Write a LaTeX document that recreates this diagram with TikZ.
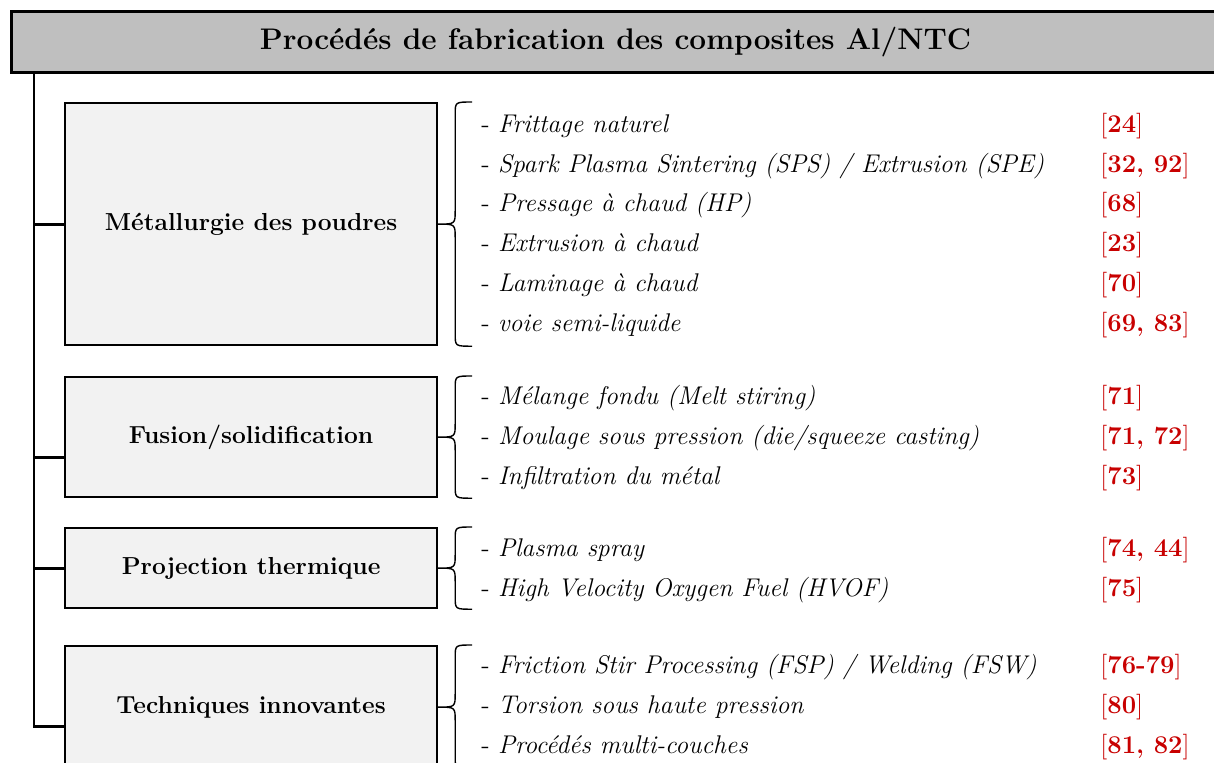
\documentclass[tikz,border=0pt]{standalone}
\definecolor{hdrgray}{HTML}{BFBFBF}
\definecolor{boxgray}{HTML}{F2F2F2}
\definecolor{refred}{HTML}{C80000}
\newcommand\drawbrace[1]{%
  \draw[br] ([xshift=17pt]#1.north east)
    .. controls ([xshift=8.5pt]#1.north east) .. ([xshift=8.5pt,yshift=-6pt]#1.north east)
    -- ([xshift=8.5pt,yshift=7pt]#1.east)
    .. controls ([xshift=8.5pt]#1.east) .. (#1.east)
    .. controls ([xshift=8.5pt]#1.east) .. ([xshift=8.5pt,yshift=-7pt]#1.east)
    -- ([xshift=8.5pt,yshift=6pt]#1.south east)
    .. controls ([xshift=8.5pt]#1.south east) .. ([xshift=17pt]#1.south east);}
\begin{document}
\begin{tikzpicture}[x=0.5pt,y=-0.5pt,
  hdr/.style={draw, line width=1.5pt, fill=hdrgray, minimum width=604pt, minimum height=30.5pt, inner sep=0pt, anchor=north west, font=\fontsize{14.9}{17}\selectfont\bfseries},
  cat/.style={draw, line width=1.1pt, fill=boxgray, minimum width=186pt, inner sep=0pt, anchor=north west, font=\fontsize{12.3}{14}\selectfont\bfseries},
  item/.style={anchor=base west, inner sep=0pt, font=\fontsize{12.8}{15}\selectfont},
  ref/.style={anchor=base west, inner sep=0pt, text=refred, font=\fontsize{12.8}{15}\selectfont},
  link/.style={line width=1.4pt},
  br/.style={line width=0.7pt}]
\useasboundingbox (0,0) rectangle (1214,762);
\clip (0,0) rectangle (1214,762);
\node[hdr] (hdr) at (10,10) {Procédés de fabrication des composites Al/NTC};
\coordinate (trunk) at (34,71);
% category boxes
\node[cat, minimum height=121pt] (b1) at (64,102) {Métallurgie des poudres};
\node[cat, minimum height=60pt] (b2) at (64,376) {Fusion/solidification};
\node[cat, minimum height=40pt] (b3) at (64,527) {Projection thermique};
\node[cat, minimum height=61pt] (b4) at (64,645) {Techniques innovantes};
% trunk and branches
\draw[link] (trunk) |- ([yshift=-9.5pt]b4.west);
\draw[link] (b1.west) -- (b1.west -| trunk);
\draw[link] ([yshift=-10pt]b2.west) -- ([yshift=-10pt]b2.west -| trunk);
\draw[link] (b3.west) -- (b3.west -| trunk);
% braces
\drawbrace{b1}
\drawbrace{b2}
\drawbrace{b3}
\drawbrace{b4}
% items
\node[item] (i11) at (481,132) {- \textit{Frittage naturel}};
\node[item] (i12) at (481,172) {- \textit{Spark Plasma Sintering (SPS) / Extrusion (SPE)}};
\node[item] (i13) at (481,211) {- \textit{Pressage à chaud (HP)}};
\node[item] (i14) at (481,251) {- \textit{Extrusion à chaud}};
\node[item] (i15) at (481,291) {- \textit{Laminage à chaud}};
\node[item] (i16) at (481,331) {- \textit{voie semi-liquide}};
\node[item] (i21) at (481,404) {- \textit{Mélange fondu (Melt stiring)}};
\node[item] (i22) at (481,444) {- \textit{Moulage sous pression (die/squeeze casting)}};
\node[item] (i23) at (481,484) {- \textit{Infiltration du métal}};
\node[item] (i31) at (481,556) {- \textit{Plasma spray}};
\node[item] (i32) at (481,596) {- \textit{High Velocity Oxygen Fuel (HVOF)}};
\node[item] (i41) at (481,673) {- \textit{Friction Stir Processing (FSP) / Welding (FSW)}};
\node[item] (i42) at (481,713) {- \textit{Torsion sous haute pression}};
\node[item] (i43) at (481,753) {- \textit{Procédés multi-couches}};
% references
\node[ref] (r11) at (1100,132) {[\textbf{24}]};
\node[ref] (r12) at (1100,172) {[\textbf{32, 92}]};
\node[ref] (r13) at (1100,211) {[\textbf{68}]};
\node[ref] (r14) at (1100,251) {[\textbf{23}]};
\node[ref] (r15) at (1100,291) {[\textbf{70}]};
\node[ref] (r16) at (1100,331) {[\textbf{69, 83}]};
\node[ref] (r21) at (1100,404) {[\textbf{71}]};
\node[ref] (r22) at (1100,444) {[\textbf{71, 72}]};
\node[ref] (r23) at (1100,484) {[\textbf{73}]};
\node[ref] (r31) at (1100,556) {[\textbf{74, 44}]};
\node[ref] (r32) at (1100,596) {[\textbf{75}]};
\node[ref] (r41) at (1100,673) {[\textbf{76-79}]};
\node[ref] (r42) at (1100,713) {[\textbf{80}]};
\node[ref] (r43) at (1100,753) {[\textbf{81, 82}]};
\end{tikzpicture}
\end{document}
